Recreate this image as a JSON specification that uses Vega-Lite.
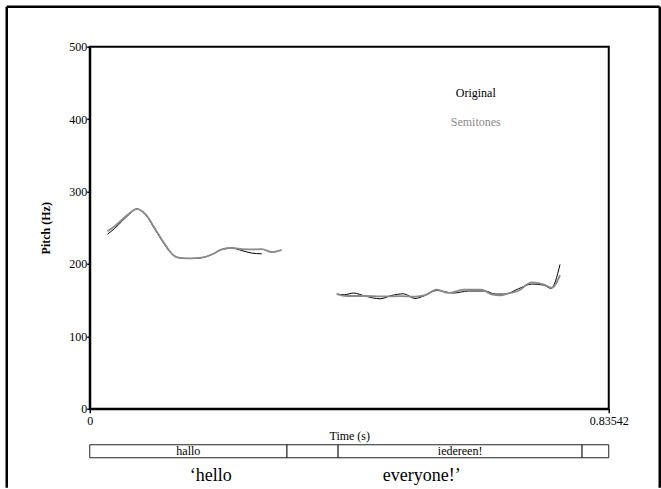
{
  "$schema": "https://vega.github.io/schema/vega-lite/v6.json",
  "padding": {"left": 3.75, "top": 3.75, "right": 1.75, "bottom": 0},
  "background": "white",
  "spacing": 36,
  "bounds": "flush",
  "config": {
    "font": "Liberation Serif",
    "view": {"stroke": "black", "strokeWidth": 2},
    "axis": {"labelFont": "Liberation Serif", "titleFont": "Liberation Serif", "labelColor": "black", "titleColor": "black", "domainColor": "black", "tickColor": "black", "labelFontSize": 12, "titleFontSize": 12, "titleFontWeight": "normal", "grid": false, "domainWidth": 2, "tickWidth": 1.5}
  },
  "datasets": {
    "pitch": [
      {"series": "Original", "seg": 1, "t": 0.0285, "pitch": 241},
      {"series": "Original", "seg": 1, "t": 0.040, "pitch": 249},
      {"series": "Original", "seg": 1, "t": 0.052, "pitch": 259},
      {"series": "Original", "seg": 1, "t": 0.064, "pitch": 269},
      {"series": "Original", "seg": 1, "t": 0.0757, "pitch": 276},
      {"series": "Original", "seg": 1, "t": 0.085, "pitch": 272},
      {"series": "Original", "seg": 1, "t": 0.0945, "pitch": 263},
      {"series": "Original", "seg": 1, "t": 0.1025, "pitch": 251},
      {"series": "Original", "seg": 1, "t": 0.1106, "pitch": 240},
      {"series": "Original", "seg": 1, "t": 0.1187, "pitch": 229},
      {"series": "Original", "seg": 1, "t": 0.1267, "pitch": 219},
      {"series": "Original", "seg": 1, "t": 0.1347, "pitch": 212},
      {"series": "Original", "seg": 1, "t": 0.1428, "pitch": 208.6},
      {"series": "Original", "seg": 1, "t": 0.155, "pitch": 207.6},
      {"series": "Original", "seg": 1, "t": 0.1642, "pitch": 207.6},
      {"series": "Original", "seg": 1, "t": 0.1803, "pitch": 208.6},
      {"series": "Original", "seg": 1, "t": 0.1964, "pitch": 213},
      {"series": "Original", "seg": 1, "t": 0.2125, "pitch": 220},
      {"series": "Original", "seg": 1, "t": 0.2286, "pitch": 222},
      {"series": "Original", "seg": 1, "t": 0.2447, "pitch": 218.5},
      {"series": "Original", "seg": 1, "t": 0.2608, "pitch": 215},
      {"series": "Original", "seg": 1, "t": 0.2769, "pitch": 214},
      {"series": "Original", "seg": 2, "t": 0.3976, "pitch": 158.4},
      {"series": "Original", "seg": 2, "t": 0.41, "pitch": 157.5},
      {"series": "Original", "seg": 2, "t": 0.4245, "pitch": 159.8},
      {"series": "Original", "seg": 2, "t": 0.443, "pitch": 155.7},
      {"series": "Original", "seg": 2, "t": 0.4673, "pitch": 151.9},
      {"series": "Original", "seg": 2, "t": 0.4861, "pitch": 156.5},
      {"series": "Original", "seg": 2, "t": 0.505, "pitch": 158.8},
      {"series": "Original", "seg": 2, "t": 0.5236, "pitch": 152.3},
      {"series": "Original", "seg": 2, "t": 0.5397, "pitch": 156.5},
      {"series": "Original", "seg": 2, "t": 0.5586, "pitch": 163.4},
      {"series": "Original", "seg": 2, "t": 0.5854, "pitch": 159.8},
      {"series": "Original", "seg": 2, "t": 0.6096, "pitch": 162.6},
      {"series": "Original", "seg": 2, "t": 0.6363, "pitch": 162.6},
      {"series": "Original", "seg": 2, "t": 0.6524, "pitch": 158.4},
      {"series": "Original", "seg": 2, "t": 0.6685, "pitch": 158.4},
      {"series": "Original", "seg": 2, "t": 0.6901, "pitch": 165.7},
      {"series": "Original", "seg": 2, "t": 0.7115, "pitch": 172.2},
      {"series": "Original", "seg": 2, "t": 0.7303, "pitch": 170.8},
      {"series": "Original", "seg": 2, "t": 0.7425, "pitch": 166.2},
      {"series": "Original", "seg": 2, "t": 0.757, "pitch": 199.3},
      {"series": "Semitones", "seg": 1, "t": 0.0285, "pitch": 245},
      {"series": "Semitones", "seg": 1, "t": 0.040, "pitch": 252},
      {"series": "Semitones", "seg": 1, "t": 0.052, "pitch": 261},
      {"series": "Semitones", "seg": 1, "t": 0.064, "pitch": 270},
      {"series": "Semitones", "seg": 1, "t": 0.0757, "pitch": 276},
      {"series": "Semitones", "seg": 1, "t": 0.085, "pitch": 272.5},
      {"series": "Semitones", "seg": 1, "t": 0.0945, "pitch": 263.5},
      {"series": "Semitones", "seg": 1, "t": 0.1025, "pitch": 252},
      {"series": "Semitones", "seg": 1, "t": 0.1106, "pitch": 241},
      {"series": "Semitones", "seg": 1, "t": 0.1187, "pitch": 230},
      {"series": "Semitones", "seg": 1, "t": 0.1267, "pitch": 220},
      {"series": "Semitones", "seg": 1, "t": 0.1347, "pitch": 212},
      {"series": "Semitones", "seg": 1, "t": 0.1428, "pitch": 208.6},
      {"series": "Semitones", "seg": 1, "t": 0.155, "pitch": 207.6},
      {"series": "Semitones", "seg": 1, "t": 0.1642, "pitch": 207.6},
      {"series": "Semitones", "seg": 1, "t": 0.1803, "pitch": 208.6},
      {"series": "Semitones", "seg": 1, "t": 0.1964, "pitch": 213},
      {"series": "Semitones", "seg": 1, "t": 0.2125, "pitch": 220},
      {"series": "Semitones", "seg": 1, "t": 0.2286, "pitch": 222},
      {"series": "Semitones", "seg": 1, "t": 0.2447, "pitch": 220.6},
      {"series": "Semitones", "seg": 1, "t": 0.2608, "pitch": 220},
      {"series": "Semitones", "seg": 1, "t": 0.2769, "pitch": 220.5},
      {"series": "Semitones", "seg": 1, "t": 0.293, "pitch": 216.4},
      {"series": "Semitones", "seg": 1, "t": 0.309, "pitch": 219.5},
      {"series": "Semitones", "seg": 2, "t": 0.3976, "pitch": 158.4},
      {"series": "Semitones", "seg": 2, "t": 0.4137, "pitch": 155.7},
      {"series": "Semitones", "seg": 2, "t": 0.443, "pitch": 155.7},
      {"series": "Semitones", "seg": 2, "t": 0.4673, "pitch": 155.1},
      {"series": "Semitones", "seg": 2, "t": 0.5, "pitch": 155.5},
      {"series": "Semitones", "seg": 2, "t": 0.5236, "pitch": 155},
      {"series": "Semitones", "seg": 2, "t": 0.5397, "pitch": 157},
      {"series": "Semitones", "seg": 2, "t": 0.5586, "pitch": 164.4},
      {"series": "Semitones", "seg": 2, "t": 0.5775, "pitch": 160},
      {"series": "Semitones", "seg": 2, "t": 0.6015, "pitch": 164.4},
      {"series": "Semitones", "seg": 2, "t": 0.631, "pitch": 164.4},
      {"series": "Semitones", "seg": 2, "t": 0.647, "pitch": 157.9},
      {"series": "Semitones", "seg": 2, "t": 0.6605, "pitch": 156.5},
      {"series": "Semitones", "seg": 2, "t": 0.674, "pitch": 159.2},
      {"series": "Semitones", "seg": 2, "t": 0.6901, "pitch": 163},
      {"series": "Semitones", "seg": 2, "t": 0.7115, "pitch": 174.5},
      {"series": "Semitones", "seg": 2, "t": 0.7303, "pitch": 171.7},
      {"series": "Semitones", "seg": 2, "t": 0.7437, "pitch": 167.1},
      {"series": "Semitones", "seg": 2, "t": 0.757, "pitch": 184.7}
    ],
    "tiers": [
      {"label": "hallo", "start": 0, "end": 0.3175},
      {"label": "", "start": 0.3175, "end": 0.3998},
      {"label": "iedereen!", "start": 0.3998, "end": 0.7925},
      {"label": "", "start": 0.7925, "end": 0.83542}
    ],
    "gloss": [
      {"text": "‘hello", "t": 0.1948},
      {"text": "everyone!’", "t": 0.5344}
    ]
  },
  "vconcat": [
    {
      "width": 519,
      "height": 362,
      "layer": [
        {
          "data": {"name": "pitch"},
          "mark": {"type": "line", "interpolate": "monotone"},
          "encoding": {
            "x": {"field": "t", "type": "quantitative", "scale": {"domain": [0, 0.83542], "nice": false, "zero": false},
              "axis": {"values": [0, 0.83542], "format": ".5~f", "title": "Time (s)", "tickSize": 4, "labelPadding": 3, "titlePadding": 4, "labelFlush": false, "labelOverlap": false}},
            "y": {"field": "pitch", "type": "quantitative", "scale": {"domain": [0, 500], "nice": false},
              "axis": {"values": [0, 100, 200, 300, 400, 500], "title": "Pitch (Hz)", "titleFontWeight": "bold", "tickSize": 3, "labelPadding": 0, "titlePadding": 16}},
            "color": {"field": "series", "type": "nominal", "scale": {"domain": ["Original", "Semitones"], "range": ["#000000", "#8a8a8a"]},
              "legend": {"title": null, "orient": "none", "legendX": 374, "legendY": 40, "symbolType": "circle", "symbolSize": 0, "symbolStrokeWidth": 0, "symbolOpacity": 0, "labelAlign": "center", "labelOffset": 0, "labelFont": "Liberation Serif", "labelFontSize": 12, "rowPadding": 17,
                "encode": {"labels": {"update": {"fill": {"signal": "datum.value === 'Original' ? '#000000' : '#8a8a8a'"}}}}}},
            "strokeWidth": {"field": "series", "type": "nominal", "scale": {"domain": ["Original", "Semitones"], "range": [1, 1.8]}, "legend": null},
            "detail": {"field": "seg"}
          }
        },
        {
          "data": {"values": [{}]},
          "mark": {"type": "rule", "color": "black", "strokeWidth": 2.5},
          "encoding": {"x": {"datum": -0.1336}, "y": {"datum": 555.2}, "y2": {"datum": -109}}
        },
        {
          "data": {"values": [{}]},
          "mark": {"type": "rule", "color": "black", "strokeWidth": 2.5},
          "encoding": {"x": {"datum": 0.9175}, "y": {"datum": 555.2}, "y2": {"datum": -109}}
        },
        {
          "data": {"values": [{}]},
          "mark": {"type": "rule", "color": "black", "strokeWidth": 2.5},
          "encoding": {"x": {"datum": -0.1336}, "x2": {"datum": 0.9175}, "y": {"datum": 555.2}}
        }
      ]
    },
    {
      "width": 519,
      "height": 39,
      "view": {"stroke": null},
      "layer": [
        {
          "data": {"name": "tiers"},
          "mark": {"type": "rect", "fill": "white", "stroke": "#222222", "strokeWidth": 1},
          "encoding": {
            "x": {"field": "start", "type": "quantitative", "scale": {"domain": [0, 0.83542], "nice": false, "zero": false}, "axis": null},
            "x2": {"field": "end"},
            "y": {"datum": 2, "type": "quantitative", "scale": {"domain": [0, 3], "nice": false}, "axis": null},
            "y2": {"datum": 3}
          }
        },
        {
          "data": {"name": "tiers"},
          "transform": [
            {"filter": "datum.label != ''"},
            {"fold": ["start", "end"], "as": ["edge", "tt"]}
          ],
          "mark": {"type": "text", "font": "Liberation Serif", "fontSize": 12, "color": "black", "baseline": "middle", "align": "center"},
          "encoding": {
            "x": {"field": "tt", "aggregate": "mean", "type": "quantitative"},
            "y": {"datum": 2.5, "type": "quantitative"},
            "text": {"field": "label", "type": "nominal"}
          }
        },
        {
          "data": {"name": "gloss"},
          "mark": {"type": "text", "font": "Liberation Serif", "fontSize": 18, "color": "black", "baseline": "middle", "align": "center"},
          "encoding": {
            "x": {"field": "t", "type": "quantitative"},
            "y": {"datum": 0.6, "type": "quantitative"},
            "text": {"field": "text", "type": "nominal"}
          }
        }
      ]
    }
  ]
}
